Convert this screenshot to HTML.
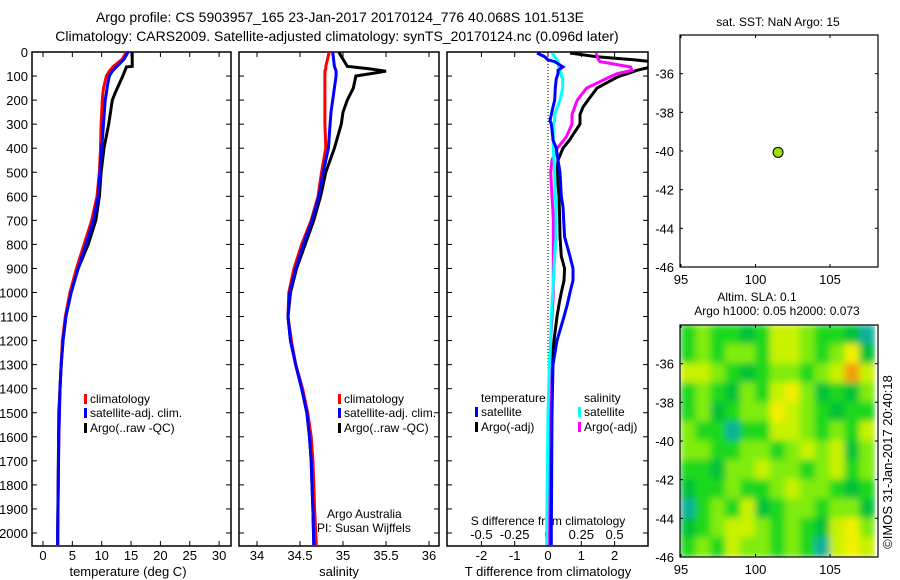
<!DOCTYPE html>
<html><head><meta charset="utf-8"><style>
html,body{margin:0;padding:0;background:#fff;}
svg{display:block;font-family:"Liberation Sans",sans-serif;}
text{fill:#000;}
</style></head><body>
<svg id="fig" width="900" height="580" viewBox="0 0 900 580">
<defs>
<filter id="blur" x="0" y="0" width="100%" height="100%"><feGaussianBlur stdDeviation="3.5" edgeMode="duplicate"/></filter>
<clipPath id="mapclip"><rect x="680" y="325" width="198" height="232"/></clipPath>
<clipPath id="c1"><rect x="32" y="52" width="199" height="494"/></clipPath>
<clipPath id="c2"><rect x="239" y="52" width="200" height="494"/></clipPath>
<clipPath id="c3"><rect x="447" y="52" width="201" height="494"/></clipPath>
</defs>
<text x="340" y="22" font-size="14" text-anchor="middle">Argo profile: CS 5903957_165 23-Jan-2017 20170124_776 40.068S 101.513E</text>
<text x="337" y="41" font-size="14" text-anchor="middle">Climatology: CARS2009. Satellite-adjusted climatology: synTS_20170124.nc (0.096d later)</text>
<g id="p1"></g>
<g id="p2"></g>
<g id="p3"></g>
<g id="m1"></g>
<g id="m2"></g>
<text transform="translate(892,462) rotate(-90)" font-size="13" text-anchor="middle">©IMOS 31-Jan-2017 20:40:18</text>
</svg>
<script>
// ---------- data ----------
var tempDepths = [0,30,60,62,80,100,150,170,200,300,400,500,600,700,800,900,1000,1100,1200,1300,1400,1500,1600,2000,2050];
var tempClim   = [14.2,13.5,12.0,11.9,11.3,10.8,10.3,10.2,10.1,9.9,9.8,9.6,9.2,8.3,7.0,5.7,4.6,3.8,3.3,3.1,2.9,2.8,2.7,2.5,2.5];
var tempSat    = [14.5,13.8,12.6,12.5,11.8,11.3,10.9,10.8,10.6,10.3,10.0,9.7,9.4,8.6,7.3,6.0,4.8,3.9,3.4,3.1,2.9,2.8,2.7,2.5,2.5];
var argoDepths = [0,60,62,100,170,200,300,400,500,600,700,800,900,1000,1100,1200,1300,1500,2000,2050];
var tempArgo   = [15.2,15.2,14.2,13.6,12.3,11.8,11.2,10.4,9.9,9.6,9.0,7.7,6.0,4.6,3.9,3.4,3.1,2.7,2.5,2.5];
var salDepths = [0,60,70,80,100,150,200,250,300,400,500,600,700,800,900,1000,1100,1200,1300,1400,1500,1600,1700,1800,1900,2050];
var salClim   = [34.84,34.80,34.80,34.79,34.79,34.79,34.79,34.79,34.79,34.80,34.75,34.71,34.63,34.52,34.43,34.37,34.36,34.40,34.45,34.53,34.59,34.63,34.65,34.66,34.67,34.69];
var salSat    = [34.88,34.90,34.91,34.92,34.92,34.90,34.88,34.86,34.85,34.83,34.77,34.72,34.64,34.54,34.45,34.38,34.36,34.39,34.45,34.52,34.58,34.61,34.63,34.64,34.65,34.66];
var salArgo   = [34.95,35.05,35.30,35.50,35.15,35.12,35.05,35.00,34.98,34.90,34.80,34.74,34.66,34.56,34.46,34.39,34.36,34.39,34.45,34.52,34.58,34.61,34.63,34.64,34.65,34.66];
var diffDepths = [4,20,33,40,62,76,90,100,110,150,200,229,260,285,300,350,366,400,450,500,600,644,700,769,850,900,950,1000,1050,1100,1200,1300,1500,2000,2050];
var dTsat  = [-0.33,-0.1,0,0.2,0.45,0.3,0.3,0.28,0.25,0.22,0.2,0.15,0.1,0.06,0.1,0.14,0.15,0.25,0.3,0.36,0.4,0.45,0.47,0.5,0.66,0.75,0.75,0.66,0.58,0.48,0.27,0.15,0.12,0.1,0.1];
var dTargo = [0.66,1.47,2.6,3.1,3.1,2.67,2.4,2.16,2.0,1.47,1.2,1.05,0.96,0.96,0.96,0.72,0.65,0.45,0.3,0.27,0.33,0.34,0.35,0.36,0.4,0.5,0.48,0.4,0.33,0.27,0.18,0.12,0.08,0.06,0.06];
var dSsat  = [0.03,0.05,0.07,0.075,0.08,0.09,0.1,0.1,0.11,0.11,0.09,0.07,0.05,0.05,0.04,0.04,0.04,0.04,0.045,0.05,0.055,0.06,0.06,0.06,0.05,0.045,0.04,0.035,0.03,0.025,0.02,0.01,0.0,-0.01,-0.01];
var dSargo = [0.36,0.37,0.38,0.39,0.62,0.63,0.52,0.48,0.44,0.29,0.22,0.2,0.18,0.18,0.18,0.14,0.12,0.07,0.03,0.02,0.03,0.035,0.04,0.04,0.04,0.04,0.04,0.04,0.035,0.03,0.02,0.015,0.01,0.0,0.0];
var depthTicks = [0,100,200,300,400,500,600,700,800,900,1000,1100,1200,1300,1400,1500,1600,1700,1800,1900,2000];
var tempTicks = [0,5,10,15,20,25,30];
var salTicks = [34,34.5,35,35.5,36];
var dTTicks = [-2,-1,0,1,2];
var dSTicks = [-0.5,-0.25,0,0.25,0.5];
var dSTickLabels = ["-0.5","-0.25","0","0.25","0.5"];
var argoLon = [101.513];
var argoLat = [-40.068];
var lonTicks = [95,100,105];
var latTicks = [-36,-38,-40,-42,-44,-46];
var slaLons = [95.5,96.5,97.5,98.5,99.5,100.5,101.5,102.5,103.5,104.5,105.5,106.5,107.5];
var slaLats = [-34.5,-35.5,-36.5,-37.5,-38.5,-39.5,-40.5,-41.5,-42.5,-43.5,-44.5,-45.5];
var slaGrid = [
[2,3,2,2,1,2,4,4,3,2,2,1,0],
[2,3,2,3,3,2,4,4,3,2,3,5,1],
[4,4,3,2,1,2,3,3,2,3,4,6,4],
[2,3,2,1,3,2,4,5,3,1,2,1,3],
[2,3,1,2,3,3,5,4,3,2,1,2,2],
[3,2,2,0,2,2,4,4,3,2,3,2,4],
[3,3,2,2,3,3,2,3,4,3,4,1,3],
[2,2,1,3,3,4,3,3,2,3,4,2,3],
[1,2,2,3,2,2,3,4,3,3,2,1,2],
[0,2,3,2,4,1,2,3,3,2,3,3,1],
[1,2,3,4,4,3,2,3,2,1,4,5,3],
[2,3,2,4,3,3,2,3,2,0,4,5,4]];
var slaColors = ['#10b09a','#00c238','#1cd81c','#80ec0c','#c8f200','#f2f000','#f29c10'];

// ---------- helpers ----------
var NS='http://www.w3.org/2000/svg';
function mk(parent,tag,attrs,txt){var e=document.createElementNS(NS,tag);for(var k in attrs)e.setAttribute(k,attrs[k]);if(txt!==undefined)e.textContent=txt;parent.appendChild(e);return e;}
var Y0=52, DY=0.2405;
function yD(d){return Y0+d*DY;}
function xT(t){return 43+t*5.87;}
function xS(s){return 257+(s-34)*86;}
function xdT(t){return 548+t*33.3;}
function xdS(s){return 548+s*133.2;}

function frame(g,x0,x1,name){
  var r=mk(g,'rect',{x:x0,y:52,width:x1-x0,height:494,fill:'none',stroke:'#000','stroke-width':1.5});
  
  
  depthTicks.forEach(function(d){
    var y=yD(d);
    var t1=mk(g,'line',{x1:x0,y1:y,x2:x0+5,y2:y,stroke:'#000'});
    
    
    var t2=mk(g,'line',{x1:x1,y1:y,x2:x1-5,y2:y,stroke:'#000'});
    
    
  });
}
function xticks(g,vals,fx,labels,lblY,tickTop,tickBot){
  vals.forEach(function(v,i){
    var x=fx(v);
    if(tickBot){var a=mk(g,'line',{x1:x,y1:546,x2:x,y2:541,stroke:'#000'});
      
      }
    if(tickTop){var b=mk(g,'line',{x1:x,y1:52,x2:x,y2:57,stroke:'#000'});
      
      }
    if(labels){var t=mk(g,'text',{x:x,y:lblY,'font-size':13,'text-anchor':'middle'},labels[i]);
      
      }
  });
}
function line(g,xs,ds,fx,color,name,clip,w){
  var pts=xs.map(function(v,i){return fx(v).toFixed(1)+','+yD(ds[i]).toFixed(1);}).join(' ');
  var p=mk(g,'polyline',{points:pts,fill:'none',stroke:color,'stroke-width':w||3,'clip-path':'url(#'+clip+')'});
  
  
}
function legend(g,x,y,color,label){
  var m=mk(g,'rect',{x:x-6,y:y-9,width:3,height:10,fill:color});
  
  
  var t=mk(g,'text',{x:x,y:y,'font-size':12},label);
  
  
}

// ---------- panel 1 ----------
var p1=document.getElementById('p1');
frame(p1,32,231,'temperature');
depthTicks.forEach(function(d){
  var t=mk(p1,'text',{x:28,y:yD(d)+5,'font-size':13,'text-anchor':'end'},String(d));
  
  
});
xticks(p1,tempTicks,xT,tempTicks.map(String),560,true,true);
var xl1=mk(p1,'text',{x:128,y:576,'font-size':13,'text-anchor':'middle'},'temperature (deg C)');


line(p1,tempArgo,argoDepths,xT,'#000','argo-temperature-line','c1');
line(p1,tempClim,tempDepths,xT,'#f00','climatology-temperature-line','c1');
line(p1,tempSat,tempDepths,xT,'#00f','satellite-temperature-line','c1');
legend(p1,90,403,'#f00','climatology');
legend(p1,90,417,'#00f','satellite-adj. clim.');
legend(p1,90,432,'#000','Argo(..raw -QC)');

// ---------- panel 2 ----------
var p2=document.getElementById('p2');
frame(p2,239,439,'salinity');
xticks(p2,salTicks,xS,['34','34.5','35','35.5','36'],560,true,true);
var xl2=mk(p2,'text',{x:339,y:576,'font-size':13,'text-anchor':'middle'},'salinity');


line(p2,salArgo,salDepths,xS,'#000','argo-salinity-line','c2');
line(p2,salClim,salDepths,xS,'#f00','climatology-salinity-line','c2');
line(p2,salSat,salDepths,xS,'#00f','satellite-salinity-line','c2');
legend(p2,344,403,'#f00','climatology');
legend(p2,344,417,'#00f','satellite-adj. clim.');
legend(p2,344,432,'#000','Argo(..raw -QC)');
var a1=mk(p2,'text',{x:327,y:518,'font-size':12},'Argo Australia');


var a2=mk(p2,'text',{x:317,y:532,'font-size':12},'PI: Susan Wijffels');



// ---------- panel 3 ----------
var p3=document.getElementById('p3');
frame(p3,447,648,'difference');
var zl=mk(p3,'line',{x1:xdT(0),y1:52,x2:xdT(0),y2:546,stroke:'#000','stroke-width':1,'stroke-dasharray':'1,2'});


xticks(p3,dTTicks,xdT,dTTicks.map(String),560,false,true);
xticks(p3,dSTicks,xdS,dSTickLabels,539,true,false);
var xl3=mk(p3,'text',{x:548,y:576,'font-size':13,'text-anchor':'middle'},'T difference from climatology');


var sl3=mk(p3,'text',{x:548,y:525,'font-size':12,'text-anchor':'middle'},'S difference from climatology');


line(p3,dTargo,diffDepths,xdT,'#000','argo-t-diff-line','c3');
line(p3,dSargo,diffDepths,xdS,'#f0f','argo-s-diff-line','c3');
line(p3,dSsat,diffDepths,xdS,'#0ff','satellite-s-diff-line','c3');
line(p3,dTsat,diffDepths,xdT,'#00f','satellite-t-diff-line','c3');
var lt=mk(p3,'text',{x:481,y:402,'font-size':12},'temperature');


var ls=mk(p3,'text',{x:584,y:402,'font-size':12},'salinity');


legend(p3,481,416,'#00f','satellite');
legend(p3,481,431,'#000','Argo(-adj)');
legend(p3,584,416,'#0ff','satellite');
legend(p3,584,431,'#f0f','Argo(-adj)');

// ---------- maps ----------
function lonX(l){return 681+(l-95)*14.9;}
function mapAxes(g,top,bot,name){
  var latY=function(la){return top+(-34-la)*((bot-top)/12);};
  var r=mk(g,'rect',{x:680,y:top,width:198,height:bot-top,fill:'none',stroke:'#000','stroke-width':1.2});
  
  
  latTicks.forEach(function(la){
    var y=latY(la);
    var t=mk(g,'text',{x:674,y:y+5,'font-size':13,'text-anchor':'end'},String(la));
    
    
    var tk=mk(g,'line',{x1:680,y1:y,x2:683,y2:y,stroke:'#000'});
    
    
    var tk2=mk(g,'line',{x1:878,y1:y,x2:875,y2:y,stroke:'#000'});
    
    
  });
  lonTicks.forEach(function(lo){
    var x=lonX(lo);
    var t=mk(g,'text',{x:x,y:bot+17,'font-size':13,'text-anchor':'middle'},String(lo));
    
    
    var tk=mk(g,'line',{x1:x,y1:bot,x2:x,y2:bot-3,stroke:'#000'});
    
    
    var tk2=mk(g,'line',{x1:x,y1:top,x2:x,y2:top+3,stroke:'#000'});
    
    
  });
  return latY;
}
var m1=document.getElementById('m1');
var mt1=mk(m1,'text',{x:778,y:26,'font-size':12,'text-anchor':'middle'},'sat. SST: NaN Argo: 15');


var latY1=mapAxes(m1,35,267,'sst-map');
argoLon.forEach(function(lo,i){
  var c=mk(m1,'circle',{cx:lonX(lo),cy:latY1(argoLat[i]),r:5,fill:'#9be000',stroke:'#000','stroke-width':1});
  
  
});

var m2=document.getElementById('m2');
var mt2=mk(m2,'text',{x:757,y:301,'font-size':12,'text-anchor':'middle'},'Altim. SLA: 0.1');


var mt3=mk(m2,'text',{x:777,y:315,'font-size':12,'text-anchor':'middle'},'Argo h1000: 0.05 h2000: 0.073');


var clipG=mk(m2,'g',{'clip-path':'url(#mapclip)'});
var heat=mk(clipG,'g',{filter:'url(#blur)'});
var latY2=function(la){return 325+(-34-la)*(232/12);};
slaGrid.forEach(function(row,r){
  row.forEach(function(v,c){
    var cell=mk(heat,'rect',{x:(lonX(slaLons[c]-0.5)-0.5).toFixed(1),y:(latY2(slaLats[r]+0.5)-0.5).toFixed(1),width:16,height:20.4,fill:slaColors[v]});
    
    
  });
});
mapAxes(m2,325,557,'sla-map');
</script>
</body></html>
